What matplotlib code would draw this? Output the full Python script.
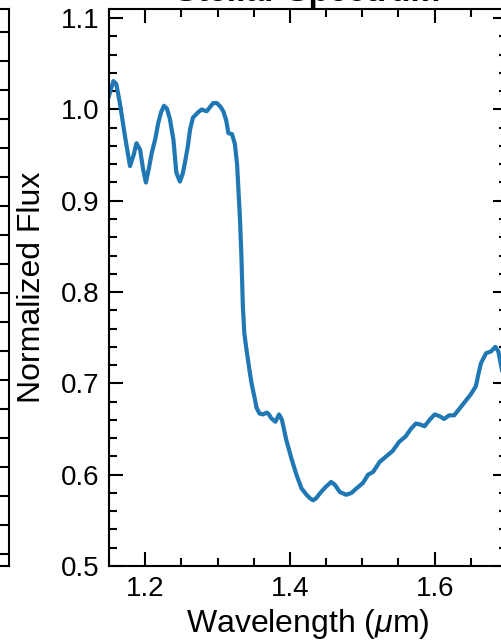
import matplotlib
matplotlib.use("Agg")
import matplotlib.pyplot as plt
from matplotlib.ticker import MultipleLocator

plt.rcParams['font.family'] = ['Liberation Sans', 'DejaVu Sans']
plt.rcParams['mathtext.fontset'] = 'custom'
plt.rcParams['mathtext.rm'] = 'Liberation Sans'
plt.rcParams['mathtext.it'] = 'Liberation Sans:italic'

wavelength = [1.150, 1.156, 1.160, 1.165, 1.172, 1.179, 1.184, 1.188, 1.193, 1.197,
              1.201, 1.205, 1.209, 1.214, 1.218, 1.222, 1.226, 1.230, 1.234, 1.239,
              1.243, 1.248, 1.252, 1.255, 1.259, 1.262, 1.266, 1.272, 1.278, 1.285,
              1.290, 1.294, 1.299, 1.304, 1.308, 1.312, 1.315, 1.320, 1.324, 1.327,
              1.329, 1.331, 1.333, 1.335, 1.337, 1.340, 1.344, 1.347, 1.351, 1.354,
              1.358, 1.363, 1.368, 1.371, 1.374, 1.380, 1.385, 1.389, 1.395, 1.402,
              1.409, 1.416, 1.423, 1.428, 1.432, 1.436, 1.443, 1.450, 1.457, 1.462,
              1.469, 1.478, 1.485, 1.492, 1.501, 1.508, 1.515, 1.524, 1.533, 1.542,
              1.551, 1.560, 1.567, 1.574, 1.580, 1.586, 1.593, 1.600, 1.607, 1.613,
              1.620, 1.627, 1.633, 1.639, 1.645, 1.650, 1.657, 1.661, 1.664, 1.671,
              1.678, 1.684, 1.688, 1.693, 1.697]
flux = [1.015, 1.031, 1.028, 1.007, 0.971, 0.938, 0.950, 0.963, 0.956, 0.935,
        0.920, 0.935, 0.952, 0.968, 0.985, 0.997, 1.004, 1.001, 0.990, 0.967,
        0.931, 0.921, 0.930, 0.942, 0.960, 0.978, 0.991, 0.996, 1.000, 0.998,
        1.003, 1.007, 1.007, 1.003, 0.998, 0.988, 0.974, 0.973, 0.962, 0.940,
        0.910, 0.880, 0.839, 0.784, 0.755, 0.737, 0.715, 0.700, 0.685, 0.673,
        0.667, 0.666, 0.668, 0.666, 0.662, 0.658, 0.666, 0.660, 0.638, 0.618,
        0.600, 0.585, 0.578, 0.574, 0.572, 0.574, 0.581, 0.587, 0.592, 0.589,
        0.581, 0.578, 0.580, 0.585, 0.591, 0.600, 0.603, 0.614, 0.620, 0.626,
        0.636, 0.642, 0.650, 0.656, 0.655, 0.653, 0.660, 0.666, 0.664, 0.661,
        0.665, 0.665, 0.671, 0.677, 0.683, 0.688, 0.697, 0.712, 0.722, 0.733,
        0.735, 0.740, 0.735, 0.715, 0.700]

W, H = 502, 641
fig = plt.figure(figsize=(W / 100, H / 100), dpi=100)

# main axes (right edge extends beyond the crop)
ax_l, ax_r, ax_t, ax_b = 109, 507, 9, 566
ax = fig.add_axes([ax_l / W, (H - ax_b) / H, (ax_r - ax_l) / W, (ax_b - ax_t) / H])
ax.plot(wavelength, flux, color='#1f77b4', lw=3.0, solid_joinstyle='round')
ax.set_xlim(1.15, 1.70)
ax.set_ylim(0.5, 1.11)
ax.xaxis.set_major_locator(MultipleLocator(0.2))
ax.xaxis.set_minor_locator(MultipleLocator(0.05))
ax.yaxis.set_major_locator(MultipleLocator(0.1))
ax.yaxis.set_minor_locator(MultipleLocator(0.02))
ax.tick_params(which='both', direction='in', top=True, right=True, width=1.5)
ax.tick_params(which='major', length=10, labelsize=20, pad=7)
ax.tick_params(which='minor', length=6)
for s in ax.spines.values():
    s.set_linewidth(1.5)
ax.set_xlabel(r'Wavelength ($\mu$m)', fontsize=23, labelpad=4)
ax.set_ylabel('Normalized Flux', fontsize=23, labelpad=10)
ax.set_title('Stellar Spectrum', fontsize=24, fontweight='bold', pad=6)

# neighbouring panel, only its right edge is visible
ax2 = fig.add_axes([-0.5, (H - ax_b) / H, 0.5 + 9 / W, (ax_b - ax_t) / H])
ax2.set_ylim(-0.415, 18.795)
ax2.set_yticks(range(19))
ax2.set_xticks([])
ax2.tick_params(axis='y', which='both', direction='in', right=True, left=False,
                labelleft=False, width=1.5, length=10)
for s in ax2.spines.values():
    s.set_linewidth(1.5)

fig.savefig('out.png', dpi=100)
